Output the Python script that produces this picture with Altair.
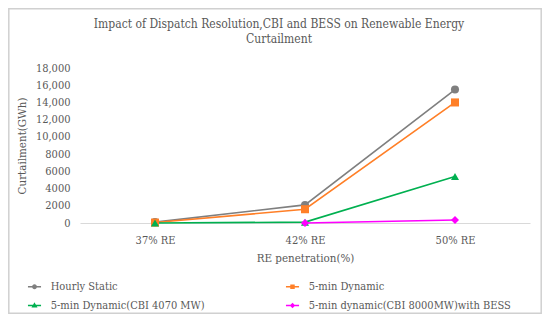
import altair as alt
import pandas as pd

categories = ["37% RE", "42% RE", "50% RE"]
series = [
    "Hourly Static",
    "5-min Dynamic",
    "5-min Dynamic(CBI 4070 MW)",
    "5-min dynamic(CBI 8000MW)with BESS",
]
hourly_static = [100, 2100, 15500]
dynamic_5min = [50, 1600, 14000]
dynamic_cbi4070 = [0, 100, 5400]
dynamic_cbi8000_bess = [None, 0, 350]
y_ticks = [0, 2000, 4000, 6000, 8000, 10000, 12000, 14000, 16000, 18000]

colors = ["#7F7F7F", "#FF7F27", "#00B050", "#FF00FF"]
shapes = ["circle", "square", "triangle-up", "diamond"]
legend_paths = [
    "M-1.5,0H1.5M0.38,0A0.38,0.38,0,1,1,-0.38,0A0.38,0.38,0,1,1,0.38,0Z",
    "M-1.5,0H1.5M-0.34,-0.34H0.34V0.34H-0.34Z",
    "M-1.5,0H1.5M0,-0.4L0.4,0.3H-0.4Z",
    "M-1.5,0H1.5M0,-0.38L0.38,0L0,0.38L-0.38,0Z",
]

rows = []
for name, vals in zip(series, [hourly_static, dynamic_5min, dynamic_cbi4070, dynamic_cbi8000_bess]):
    for c, v in zip(categories, vals):
        if v is not None:
            rows.append({"series": name, "category": c, "value": v})
df = pd.DataFrame(rows)

FONT = "'DejaVu Serif Condensed', 'Liberation Serif', serif"
TXT = "#595959"

x_enc = alt.X(
    "category:N",
    sort=categories,
    scale=alt.Scale(type="point", padding=0.5),
    axis=alt.Axis(
        title="RE penetration(%)",
        labelAngle=0,
        ticks=False,
        grid=False,
        domainColor="#D9D9D9",
        domainWidth=1,
        labelPadding=11,
        titlePadding=7,
        labelFont=FONT,
        titleFont=FONT,
        labelFontSize=11,
        titleFontSize=11.5,
        labelColor=TXT,
        titleColor=TXT,
        titleFontWeight="normal",
    ),
)
y_enc = alt.Y(
    "value:Q",
    scale=alt.Scale(domain=[0, 18000], nice=False),
    axis=alt.Axis(
        title="Curtailment(GWh)",
        values=y_ticks,
        labelExpr="datum.value >= 10000 ? format(datum.value, ',') : format(datum.value, 'd')",
        grid=False,
        domain=False,
        ticks=False,
        labelPadding=10,
        labelFont=FONT,
        titleFont=FONT,
        labelFontSize=11,
        titleFontSize=11.5,
        labelColor=TXT,
        titleColor=TXT,
        titleFontWeight="normal",
        titleAngle=-90,
        titleX=-58,
        titleY=77.5,
        titleAlign="center",
        titleBaseline="middle",
    ),
)

color_scale = alt.Scale(domain=series, range=colors)

frame = alt.Chart(pd.DataFrame({"a": [0]})).mark_rect(
    fill="transparent", stroke="#D0D0D0", strokeWidth=1.5
).encode(
    x=alt.value(-71.2), x2=alt.value(461.2), y=alt.value(-59.2), y2=alt.value(245.2)
)

lines = alt.Chart(df).mark_line(strokeWidth=1.6).encode(
    x=x_enc,
    y=y_enc,
    color=alt.Color("series:N", scale=color_scale, legend=None),
)

points = alt.Chart(df).mark_point(filled=True, opacity=1, size=65).encode(
    x=x_enc,
    y=y_enc,
    color=alt.Color("series:N", scale=color_scale, legend=None),
    shape=alt.Shape("series:N", scale=alt.Scale(domain=series, range=shapes), legend=None),
)

leg = alt.Legend(
    title=None,
    orient="none",
    direction="horizontal",
    legendX=-51,
    legendY=213,
    columns=2,
    columnPadding=77,
    rowPadding=7,
    symbolSize=76,
    symbolStrokeWidth=1.5,
    labelOffset=10.7,
    labelFont=FONT,
    labelFontSize=11,
    labelColor=TXT,
    labelLimit=400,
)

legend_layer = alt.Chart(df).transform_filter("false").mark_point(
    filled=True, opacity=1, size=76, strokeWidth=1.5
).encode(
    x=x_enc,
    y=y_enc,
    color=alt.Color("series:N", scale=alt.Scale(domain=series, range=colors), legend=leg),
    stroke=alt.Stroke("series:N", scale=alt.Scale(domain=series, range=colors), legend=leg),
    shape=alt.Shape("series:N", scale=alt.Scale(domain=series, range=legend_paths), legend=leg),
)

chart = alt.layer(frame, lines, points, legend_layer).resolve_scale(
    color="independent", shape="independent", stroke="independent"
).properties(
    width=450,
    height=155,
    padding={"left": 72, "top": 60, "right": 12, "bottom": 91},
    autosize=alt.AutoSizeParams(type="none"),
    view=alt.ViewBackground(stroke="transparent", strokeWidth=0, strokeOpacity=0),
    title=alt.Title(
        text=["Impact of Dispatch Resolution,CBI and BESS on Renewable Energy", "Curtailment"],
        font=FONT,
        fontSize=12,
        fontWeight="normal",
        color=TXT,
        anchor="middle",
        frame="group",
        dx=-26,
        offset=-38,
        lineHeight=15,
    ),
).configure_view(stroke="transparent", strokeWidth=0, strokeOpacity=0).configure_axis(grid=False).configure(background="white")

chart.save("out.html", embed_options={"renderer": "svg", "actions": False})
